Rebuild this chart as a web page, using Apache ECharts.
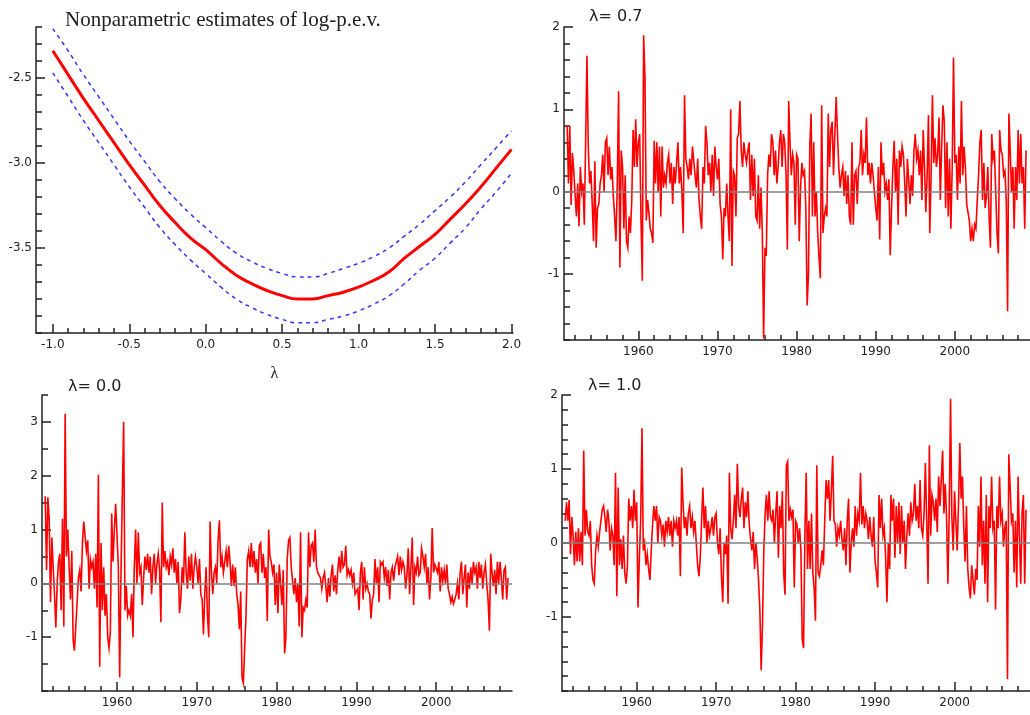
<!DOCTYPE html>
<html><head><meta charset="utf-8">
<script src="https://cdn.jsdelivr.net/npm/echarts@6/dist/echarts.min.js"></script>
<style>html,body{margin:0;padding:0;background:#fff}#c{width:1030px;height:715px}</style>
</head><body><div id="c"></div>
<script>
// ---- Panel 1: nonparametric estimates of log-p.e.v. against lambda ----
const lambdaGrid = [-1.0,-0.9,-0.8,-0.7,-0.6,-0.5,-0.4,-0.3,-0.2,-0.1,0.0,0.1,0.2,0.3,0.4,0.5,0.6,0.7,0.8,0.9,1.0,1.1,1.2,1.3,1.4,1.5,1.6,1.7,1.8,1.9,2.0];
const logPevEstimate = [-2.34,-2.48,-2.62,-2.75,-2.88,-3.01,-3.13,-3.25,-3.35,-3.44,-3.51,-3.59,-3.66,-3.71,-3.75,-3.78,-3.80,-3.80,-3.78,-3.76,-3.73,-3.69,-3.64,-3.56,-3.49,-3.42,-3.33,-3.24,-3.14,-3.03,-2.92];
const logPevUpper = [-2.21,-2.34,-2.48,-2.61,-2.74,-2.87,-2.99,-3.11,-3.21,-3.30,-3.38,-3.46,-3.53,-3.58,-3.62,-3.65,-3.67,-3.67,-3.65,-3.62,-3.59,-3.55,-3.50,-3.43,-3.36,-3.28,-3.20,-3.11,-3.01,-2.91,-2.81];
const logPevLower = [-2.47,-2.61,-2.75,-2.88,-3.01,-3.14,-3.26,-3.38,-3.48,-3.57,-3.65,-3.73,-3.80,-3.85,-3.89,-3.92,-3.94,-3.94,-3.92,-3.90,-3.87,-3.83,-3.78,-3.71,-3.63,-3.56,-3.47,-3.38,-3.27,-3.17,-3.06];
const lambdaTicks = [-1.0,-0.9,-0.8,-0.7,-0.6,-0.5,-0.4,-0.3,-0.2,-0.1,0.0,0.1,0.2,0.3,0.4,0.5,0.6,0.7,0.8,0.9,1.0,1.1,1.2,1.3,1.4,1.5,1.6,1.7,1.8,1.9,2.0];
const lambdaLabels = [-1.0,-0.5,0.0,0.5,1.0,1.5,2.0];
const logPevLabels = [-3.5,-3.0,-2.5];

// ---- Time-series panels: readings every two months from 1951.0 (six per year) ----
const seriesStartYear = 1951;
const readingsPerYear = 6;
const yearTicks = [1952,1954,1956,1958,1960,1962,1964,1966,1968,1970,1972,1974,1976,1978,1980,1982,1984,1986,1988,1990,1992,1994,1996,1998,2000,2002,2004,2006,2008];
const yearLabels = [1960,1970,1980,1990,2000];
const labels07 = [-1,0,1,2];
const labels00 = [-1,0,1,2,3];
const labels10 = [-1,0,1,2];

const resid07 = [
0.8,0.1,0.8,-0.16,0.47,0.25,
0.25,-0.3,0.1,-0.42,0.3,0.0,
0.1,-0.4,0.6,1.65,0.55,0.1,
0.25,-0.15,-0.6,0.37,-0.68,-0.2,
-0.15,0.1,0.2,0.45,0.0,0.6,
0.65,0.2,0.55,0.15,0.3,-0.05,
-0.3,-0.6,0.1,1.22,-0.92,0.5,
0.3,-0.45,0.2,-0.6,-0.68,-0.3,
-0.5,-0.1,0.75,0.3,0.88,0.3,
0.6,0.7,-0.35,-1.08,1.9,1.38,
-0.35,-0.1,-0.25,-0.45,-0.5,-0.62,
0.62,0.1,0.6,0.0,0.55,-0.3,
0.55,0.05,0.2,0.1,0.35,0.45,
0.1,0.35,-0.15,0.3,0.1,0.35,
0.6,0.1,0.3,0.0,-0.5,1.17,
0.4,0.3,0.15,0.4,0.2,0.55,
0.55,0.2,0.05,0.4,-0.1,-0.3,
-0.45,0.3,0.1,0.8,0.6,0.2,
0.35,0.0,0.45,-0.05,0.55,0.3,
0.15,0.4,-0.15,-0.3,-0.82,-0.2,
-0.3,0.1,-0.3,-0.6,1.0,-0.9,
0.25,0.2,-0.3,0.65,0.7,1.1,
0.5,0.3,0.6,0.45,0.35,0.5,
0.6,-0.1,0.45,-0.05,0.4,-0.3,
-0.35,0.2,-0.45,0.05,-0.5,-1.78,
-0.68,-0.78,0.2,0.45,0.3,0.7,
0.6,0.2,0.5,0.1,0.3,0.6,
0.75,0.3,0.7,0.6,0.2,-0.7,
1.1,0.6,0.2,0.45,0.35,-0.4,
0.45,0.4,-0.6,0.05,0.35,0.2,
0.25,-0.2,-1.38,-1.0,0.55,0.95,
-0.3,0.6,-0.3,0.0,-0.5,-0.8,
-1.05,1.05,-0.5,-0.3,-0.2,-0.3,
0.95,0.3,0.75,0.85,0.2,0.7,
1.15,0.7,0.3,0.05,0.2,0.3,
-0.05,0.25,-0.15,0.2,-0.3,-0.4,
0.6,-0.4,0.2,0.25,-0.15,0.3,
0.35,0.75,0.2,0.45,0.35,0.9,
0.2,0.35,0.1,0.35,0.2,0.0,
-0.2,-0.35,0.3,-0.58,0.6,0.2,
0.35,0.0,0.1,-0.1,0.15,-0.77,
-0.2,0.3,0.62,0.0,0.4,-0.4,
0.5,0.3,0.55,0.45,0.1,-0.3,
0.4,0.15,-0.15,0.2,-0.05,0.5,
0.7,0.4,0.5,0.2,0.5,-0.1,
0.75,0.3,-0.25,0.2,0.93,-0.5,
0.2,1.17,0.35,0.65,0.3,0.45,
0.9,-0.1,0.55,1.05,0.85,-0.2,
0.6,-0.3,0.4,-0.45,0.3,1.63,
0.35,0.45,-0.1,0.55,0.1,1.1,
0.2,0.55,0.3,-0.15,-0.25,-0.35,
-0.6,-0.45,-0.6,-0.4,-0.45,-0.1,
0.2,0.6,0.75,-0.1,0.35,-0.2,
-0.05,0.3,-0.3,-0.68,0.7,0.4,
0.5,0.0,-0.5,-0.75,0.75,0.5,
0.45,0.2,0.25,-0.1,-1.45,0.95,
0.5,0.0,0.3,-0.45,0.3,-0.1,
0.75,0.1,0.7,0.1,0.3,-0.45,
0.5];

const resid00 = [
1.62,0.25,1.6,1.2,-0.35,0.85,
0.3,-0.2,-0.82,0.0,0.4,0.55,
-0.5,1.2,-0.8,3.15,0.5,1.0,
0.3,-0.3,0.6,-1.05,-1.25,-0.8,
-0.35,0.1,0.25,-0.15,0.75,1.15,
1.15,0.6,0.8,-0.1,0.45,0.3,
0.4,-0.1,0.55,-0.45,2.02,-1.55,
0.75,-0.5,0.3,-0.6,-0.2,-1.0,
-1.2,-0.9,1.3,0.4,1.0,1.48,
0.9,0.3,-1.75,0.2,1.65,3.0,
-0.5,-0.05,-0.6,-0.5,-0.6,-0.2,
-1.0,0.3,1.0,0.0,0.95,0.2,
0.3,-0.4,0.1,0.5,0.25,0.55,
0.2,0.5,-0.2,0.3,0.55,0.0,
0.35,0.55,0.25,-0.72,1.5,0.3,
0.6,0.3,0.4,0.15,0.5,0.35,
0.65,0.2,0.45,0.0,0.4,-0.55,
-0.3,0.3,0.0,0.95,0.2,-0.1,
0.5,0.05,0.55,-0.1,0.3,0.5,
0.3,0.0,0.45,-0.2,-0.3,-0.95,
-0.2,0.3,-0.6,-1.0,1.15,0.2,
-0.2,0.2,0.3,0.0,0.8,1.17,
0.3,0.5,0.2,0.4,0.6,0.3,
0.7,0.4,-0.05,0.35,-0.05,0.3,
-0.2,-0.4,-0.85,-0.15,-1.75,-1.85,
-1.2,-0.6,0.45,0.6,0.3,0.75,
0.3,0.6,0.2,0.45,0.0,0.7,
0.75,0.2,0.55,0.1,0.3,-0.7,
1.0,0.5,0.4,0.2,0.35,-0.4,
0.2,-0.55,0.35,0.0,-0.4,0.25,
-1.3,-1.0,0.45,0.8,0.85,0.3,
0.3,-0.2,0.1,-0.35,0.0,-0.8,
0.95,-1.0,-0.45,-0.5,-0.3,-0.45,
0.95,0.3,0.7,0.75,0.4,1.0,
0.3,0.2,0.15,0.1,-0.1,0.1,
0.2,-0.05,-0.35,0.1,-0.25,0.15,
0.35,-0.15,0.15,-0.2,0.25,0.5,
0.2,0.6,0.3,0.35,0.7,0.15,
0.25,0.15,0.25,0.0,0.2,-0.2,
-0.2,-0.1,-0.5,0.2,0.4,-0.3,
0.3,-0.1,0.0,-0.15,-0.2,-0.65,
-0.3,-0.2,0.45,0.0,0.3,-0.35,
0.4,0.35,0.4,0.1,0.3,-0.05,
0.25,-0.3,0.2,0.3,0.05,0.3,
0.3,0.5,0.15,0.5,0.25,0.4,
0.3,-0.1,0.15,0.65,-0.2,0.3,
0.85,-0.4,0.3,0.2,0.5,0.15,
0.2,0.65,0.5,0.3,0.55,0.0,
0.3,-0.3,0.1,1.03,0.2,0.35,
0.35,0.2,0.4,-0.15,0.3,0.05,
0.25,0.0,0.35,-0.1,-0.2,-0.35,
-0.25,-0.38,-0.3,-0.2,0.0,-0.3,
0.2,0.4,-0.2,0.1,0.35,-0.45,
0.2,-0.1,0.3,0.0,0.4,0.2,
0.3,-0.1,0.4,0.1,0.35,-0.1,
0.2,0.35,0.0,-0.3,-0.88,0.55,
0.2,-0.05,0.25,-0.2,0.4,0.0,
0.4,0.1,-0.3,0.25,0.3,-0.3,
0.1];

const resid10 = [
0.3,0.55,0.3,0.58,-0.15,0.35,
0.1,-0.3,0.15,-0.25,0.2,-0.25,
0.15,-0.3,1.25,0.1,0.45,0.15,
0.1,0.3,-0.3,-0.5,-0.55,-0.1,
0.1,-0.05,0.15,0.3,0.45,0.5,
0.35,0.15,0.45,0.3,-0.1,0.2,
0.1,-0.3,0.95,-0.72,0.75,-0.3,
0.05,-0.35,0.1,-0.4,-0.55,-0.3,
0.6,0.3,0.5,0.2,0.72,0.3,
0.55,-0.87,-0.2,0.3,1.55,-0.1,
0.0,-0.3,-0.15,-0.35,-0.5,-0.1,
0.25,0.5,0.3,0.5,0.0,0.35,
0.3,0.1,0.25,-0.05,0.3,0.15,
0.35,0.1,0.3,-0.05,0.3,0.2,
0.3,0.1,0.35,-0.45,1.02,0.55,
0.2,0.35,0.1,0.4,0.5,0.2,
0.35,0.15,0.3,0.0,-0.3,-0.45,
-0.2,0.3,0.75,0.2,0.5,0.0,
0.3,0.1,0.2,0.35,0.1,0.35,
0.4,0.0,-0.15,0.2,-0.45,-0.8,
0.0,-0.15,0.1,-0.82,0.95,0.2,
0.05,0.3,0.65,0.2,1.07,0.5,
0.35,0.6,0.75,0.2,0.55,0.35,
0.7,0.25,0.05,-0.1,0.15,-0.35,
0.0,-0.2,-0.5,-0.9,-1.72,-1.1,
-0.1,0.4,0.65,0.3,0.7,0.35,
0.3,0.45,0.0,0.4,0.7,-0.2,
0.5,0.2,0.7,-0.4,-0.7,1.05,
1.1,0.3,0.45,0.35,0.45,-0.6,
0.3,0.25,0.0,0.2,-0.1,-1.3,
-1.42,0.1,0.95,-0.35,0.3,-0.35,
0.4,-0.4,-0.6,-1.05,1.05,-0.4,
-0.45,-0.3,-0.1,-0.3,0.3,0.85,
0.6,0.85,0.3,0.7,1.18,0.3,
0.25,-0.05,0.2,0.1,0.3,0.05,
-0.1,0.2,-0.3,0.3,0.6,-0.4,
0.0,0.2,-0.05,0.5,0.1,0.4,
0.3,0.95,0.25,0.5,0.2,0.4,
0.3,0.05,0.35,0.1,-0.05,0.35,
-0.25,-0.4,-0.6,0.65,0.2,0.6,
0.1,0.2,-0.2,-0.8,0.0,-0.35,
0.65,0.3,0.6,-0.2,0.5,0.0,
0.55,-0.15,0.5,0.0,0.3,-0.35,
0.1,0.4,0.1,0.55,0.3,0.4,
0.8,0.3,0.5,0.2,0.85,0.2,
0.1,0.4,1.08,0.3,-0.55,1.32,
0.1,0.65,0.55,0.3,0.6,0.15,
0.9,0.5,0.85,1.25,0.4,0.8,
0.35,-0.55,0.4,1.95,0.35,-0.1,
0.7,0.3,-0.1,0.5,1.35,0.6,
0.9,0.2,-0.25,0.5,-0.35,-0.6,
-0.75,-0.3,-0.5,-0.7,-0.35,-0.5,
0.5,-0.05,0.9,-0.3,0.3,-0.55,
0.65,-0.8,0.5,0.2,0.9,0.2,
0.3,-0.9,0.5,0.2,0.9,0.3,
0.4,-0.05,0.2,0.3,-1.84,1.2,
1.2,0.3,0.4,-0.4,0.3,-0.6,
0.9,0.1,-0.55,0.4,0.65,-0.55,
0.45];

// ---------------- chart ----------------
const AX = '#222';
const LABEL_FONT = 'DejaVu Sans';
const LABEL_SIZE = 12;
const toPairs = arr => arr.map((v, i) => [seriesStartYear + i / readingsPerYear, v]);
const lamPairs = arr => arr.map((v, i) => [lambdaGrid[i], v]);

// Pair of overlapping axes: the main one carries the line, labels and long ticks,
// the second one only the short ticks.
function xPair(gridIndex, min, max, majorVals, minorVals, fmt, extra) {
  return [
    Object.assign({ type:'value', gridIndex, min, max,
      axisLine:{ onZero:false, lineStyle:{ color:AX, width:1.5 } },
      axisTick:{ inside:true, length:9, customValues:majorVals, lineStyle:{ color:AX, width:1.5 } },
      axisLabel:{ customValues:majorVals, color:AX, fontFamily:LABEL_FONT, fontSize:LABEL_SIZE, margin:6, formatter:fmt },
      splitLine:{ show:false } }, extra || {}),
    { type:'value', gridIndex, min, max, position:'bottom',
      axisLine:{ show:false, onZero:false },
      axisTick:{ inside:true, length:5, customValues:minorVals, lineStyle:{ color:AX, width:1.5 } },
      axisLabel:{ show:false }, splitLine:{ show:false } }
  ];
}
function yPair(gridIndex, min, max, interval, majorVals, fmt) {
  return [
    { type:'value', gridIndex, min, max, interval,
      axisLine:{ show:true, onZero:false, lineStyle:{ color:AX, width:1.5 } },
      axisTick:{ show:true, inside:true, length:9, customValues:majorVals, lineStyle:{ color:AX, width:1.5 } },
      axisLabel:{ customValues:majorVals, color:AX, fontFamily:LABEL_FONT, fontSize:LABEL_SIZE, margin:4, formatter:fmt },
      splitLine:{ show:false } },
    { type:'value', gridIndex, min, max, interval, position:'left', offset:0,
      axisLine:{ show:false, onZero:false },
      axisTick:{ show:true, inside:true, length:6, lineStyle:{ color:AX, width:1.5 } },
      axisLabel:{ show:false }, splitLine:{ show:false } }
  ];
}
function tsSeries(data, xAxisIndex, yAxisIndex) {
  return { type:'line', xAxisIndex, yAxisIndex, data:toPairs(data), showSymbol:false, symbol:'none',
    lineStyle:{ color:'#ff0000', width:1.6, join:'miter' }, animation:false, silent:true, z:2,
    markLine:{ silent:true, symbol:['none','none'], label:{ show:false }, animation:false,
      lineStyle:{ color:'#808080', width:1.5, type:'solid' }, data:[{ yAxis:0 }] } };
}
const yearFmt = v => String(Math.round(v));
const intFmt = v => String(Math.round(v));

const chart = echarts.init(document.getElementById('c'), null, { renderer:'canvas' });
const titleStyle = { fontFamily:'DejaVu Sans', fontSize:16, fontWeight:'normal', color:'#222' };
chart.setOption({
  animation:false,
  backgroundColor:'#fff',
  title:[
    { text:'Nonparametric estimates of log-p.e.v.', left:60, top:5, textStyle:{ fontFamily:'Liberation Serif', fontSize:21, fontWeight:'normal', color:'#222' } },
    { text:'λ= 0.7', left:584, top:4, textStyle:titleStyle },
    { text:'λ= 0.0', left:63, top:374, textStyle:titleStyle },
    { text:'λ= 1.0', left:583, top:373, textStyle:titleStyle }
  ],
  grid:[
    { left:36, top:27, width:477, height:306 },
    { left:564, top:27, width:466, height:313 },
    { left:42, top:395, width:470, height:296 },
    { left:562, top:395, width:468, height:296 }
  ],
  xAxis:[
    ...xPair(0, -1.11, 2.01, lambdaLabels, lambdaTicks, v => v.toFixed(1),
      { name:'λ', nameLocation:'middle', nameGap:33,
        nameTextStyle:{ fontFamily:'Liberation Serif', fontSize:16, color:'#222' } }),
    ...xPair(1, 1950.6, 2009.5, yearLabels, yearTicks, yearFmt),
    ...xPair(2, 1950.6, 2009.5, yearLabels, yearTicks, yearFmt),
    ...xPair(3, 1950.6, 2009.5, yearLabels, yearTicks, yearFmt)
  ],
  yAxis:[
    ...yPair(0, -4.0, -2.2, 0.1, logPevLabels, v => v.toFixed(1)),
    ...yPair(1, -1.8, 2.0, 0.2, labels07, intFmt),
    ...yPair(2, -2.0, 3.5, 0.5, labels00, intFmt),
    ...yPair(3, -2.0, 2.0, 0.2, labels10, intFmt)
  ],
  series:[
    { type:'line', xAxisIndex:0, yAxisIndex:0, data:lamPairs(logPevUpper), showSymbol:false, symbol:'none', smooth:true,
      lineStyle:{ color:'#3535ff', width:1.5, type:[4,4] }, silent:true },
    { type:'line', xAxisIndex:0, yAxisIndex:0, data:lamPairs(logPevLower), showSymbol:false, symbol:'none', smooth:true,
      lineStyle:{ color:'#3535ff', width:1.5, type:[4,4] }, silent:true },
    { type:'line', xAxisIndex:0, yAxisIndex:0, data:lamPairs(logPevEstimate), showSymbol:false, symbol:'none', smooth:true,
      lineStyle:{ color:'#ff0000', width:3 }, silent:true },
    tsSeries(resid07, 2, 2),
    tsSeries(resid00, 4, 4),
    tsSeries(resid10, 6, 6)
  ]
});
</script></body></html>
